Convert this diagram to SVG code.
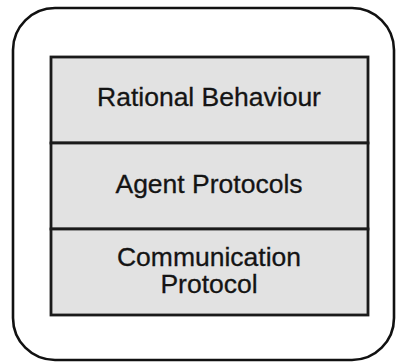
<svg xmlns="http://www.w3.org/2000/svg" width="396" height="362" viewBox="0 0 396 362">
<style>
.outer{fill:#fff;stroke:#111;stroke-width:2.6}
.layer{fill:#e2e2e2;stroke:#1a1a1a;stroke-width:2.8}
.t{font-family:"Liberation Sans",Arial,sans-serif;font-size:26.5px;fill:#141414;stroke:#141414;stroke-width:0.3;text-anchor:middle}
</style>
<rect width="396" height="362" fill="#fff"/>
<g id="container"><rect class="outer" x="13" y="8" width="381" height="352" rx="42" ry="42"/></g>
<g id="rational"><rect class="layer" x="51" y="57" width="317" height="86"/><text class="t" x="209" y="106">Rational Behaviour</text></g>
<g id="agent"><rect class="layer" x="51" y="143" width="317" height="86"/><text class="t" x="209" y="193">Agent Protocols</text></g>
<g id="communication"><rect class="layer" x="51" y="229" width="317" height="86"/><text class="t" x="209" y="266">Communication</text><text class="t" x="209" y="293">Protocol</text></g>
<g id="connectors"></g>
</svg>
